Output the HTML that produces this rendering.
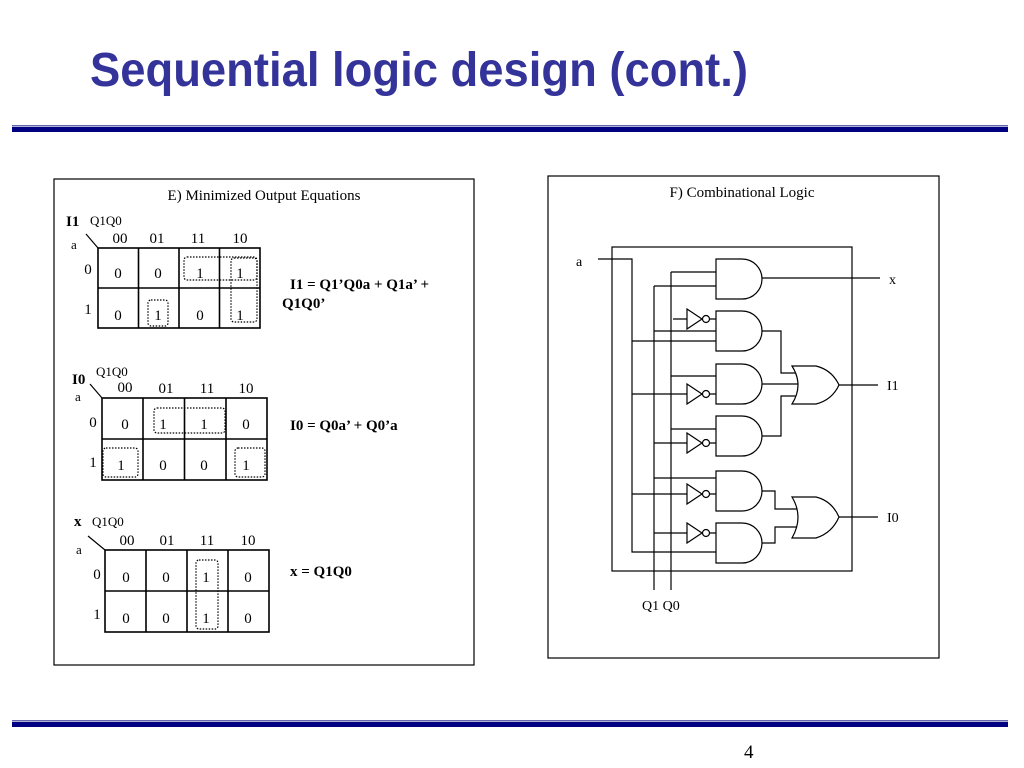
<!DOCTYPE html>
<html><head><style>body{margin:0;background:#fff}svg{display:block}</style></head><body>
<svg width="1024" height="768" viewBox="0 0 1024 768" xmlns="http://www.w3.org/2000/svg" font-family="Liberation Serif, serif">
<text x="90" y="86" font-family="Liberation Sans, sans-serif" font-weight="bold" font-size="48" fill="#333399" textLength="658" lengthAdjust="spacingAndGlyphs">Sequential logic design (cont.)</text>
<rect x="12" y="125" width="996" height="1.5" fill="#6666aa"/><rect x="12" y="127" width="996" height="5" fill="#000080"/>
<rect x="12" y="720" width="996" height="1.5" fill="#6666aa"/><rect x="12" y="722" width="996" height="5" fill="#000080"/>
<text x="744" y="758" font-size="19">4</text>
<g fill="none" stroke="#000" stroke-width="1.2">
<rect x="54" y="179" width="420" height="486"/>
<rect x="548" y="176" width="391" height="482"/>
<rect x="98" y="248" width="162" height="80" stroke-width="1.6"/><path d="M98 288H260M138.5 248V328M179 248V328M219.5 248V328" stroke-width="1.6"/>
<path d="M98 248L86 234"/>
<rect x="102" y="398" width="165" height="82" stroke-width="1.6"/><path d="M102 439H267M143 398V480M184.5 398V480M226 398V480" stroke-width="1.6"/>
<path d="M102 398L90 384"/>
<rect x="105" y="550" width="164" height="82" stroke-width="1.6"/><path d="M105 591H269M146 550V632M187 550V632M228 550V632" stroke-width="1.6"/>
<path d="M105 550L88 536"/>
</g>
<g fill="none" stroke="#000" stroke-width="1.2" stroke-dasharray="1.5,1.5">
<rect x="184" y="257" width="73" height="23" rx="3"/>
<rect x="231" y="258" width="26" height="64" rx="3"/>
<rect x="148" y="300" width="20" height="26" rx="3"/>
<rect x="154" y="408" width="71" height="25" rx="3"/>
<rect x="103" y="448" width="35" height="29" rx="3"/>
<rect x="235" y="448" width="30" height="29" rx="3"/>
<rect x="196" y="560" width="22" height="69" rx="3"/>
</g>
<g font-size="15" text-anchor="middle">
<text x="264" y="200">E) Minimized Output Equations</text>
<text x="742" y="197">F) Combinational Logic</text>
<g>
<text x="120" y="243">00</text><text x="157" y="243">01</text><text x="198" y="243">11</text><text x="240" y="243">10</text>
<text x="118" y="278">0</text><text x="158" y="278">0</text><text x="200" y="278">1</text><text x="240" y="278">1</text>
<text x="118" y="320">0</text><text x="158" y="320">1</text><text x="200" y="320">0</text><text x="240" y="320">1</text>
<text x="88" y="274">0</text><text x="88" y="314">1</text>
</g>
<g>
<text x="125" y="392">00</text><text x="166" y="393">01</text><text x="207" y="393">11</text><text x="246" y="393">10</text>
<text x="125" y="429">0</text><text x="163" y="429">1</text><text x="204" y="429">1</text><text x="246" y="429">0</text>
<text x="121" y="470">1</text><text x="163" y="470">0</text><text x="204" y="470">0</text><text x="246" y="470">1</text>
<text x="93" y="427">0</text><text x="93" y="467">1</text>
</g>
<g>
<text x="127" y="545">00</text><text x="167" y="545">01</text><text x="207" y="545">11</text><text x="248" y="545">10</text>
<text x="126" y="582">0</text><text x="166" y="582">0</text><text x="206" y="582">1</text><text x="248" y="582">0</text>
<text x="126" y="623">0</text><text x="166" y="623">0</text><text x="206" y="623">1</text><text x="248" y="623">0</text>
<text x="97" y="579">0</text><text x="97" y="619">1</text>
</g>
</g>
<g font-size="13">
<text x="90" y="225">Q1Q0</text><text x="71" y="249">a</text>
<text x="96" y="376">Q1Q0</text><text x="75" y="401">a</text>
<text x="92" y="526">Q1Q0</text><text x="76" y="554">a</text>
</g>
<g font-size="15" font-weight="bold">
<text x="66" y="226">I1</text><text x="72" y="384">I0</text><text x="74" y="526">x</text>
<text x="290" y="289">I1 = Q1’Q0a + Q1a’ +</text><text x="282" y="308">Q1Q0’</text>
<text x="290" y="430">I0 = Q0a’ + Q0’a</text>
<text x="290" y="576">x = Q1Q0</text>
</g>
<g font-size="14">
<text x="576" y="266">a</text><text x="889" y="284">x</text><text x="887" y="390">I1</text><text x="887" y="522">I0</text>
<text x="642" y="610">Q1 Q0</text>
</g>
<g fill="none" stroke="#000" stroke-width="1.2">
<rect x="612" y="247" width="240" height="324"/>
<path d="M598 259H632V552H716"/>
<path d="M654 286V590M671 272V590"/>
<path d="M671 272H716M654 286H716M762 278H880"/>
<path d="M673 319H687M654 331H716M632 341H716M762 331H781V373H797"/>
<path d="M671 376H716M632 394H687M762 384H800"/>
<path d="M671 429H716M654 443H687M762 436H781V396H797"/>
<path d="M654 478H716M632 494H687M762 491H775V509H797"/>
<path d="M654 533H687M762 543H775V527H797"/>
<path d="M838 385H878M838 517H878"/>
<path d="M710 319H716M710 394H716M710 443H716M710 494H716M710 533H716"/>
</g>
<g fill="#fff" stroke="#000" stroke-width="1.2">
<path d="M716 259H742A20 20 0 0 1 742 299H716Z"/>
<path d="M716 311H742A20 20 0 0 1 742 351H716Z"/>
<path d="M716 364H742A20 20 0 0 1 742 404H716Z"/>
<path d="M716 416H742A20 20 0 0 1 742 456H716Z"/>
<path d="M716 471H742A20 20 0 0 1 742 511H716Z"/>
<path d="M716 523H742A20 20 0 0 1 742 563H716Z"/>
<path d="M792 366Q804 385 792 404H816Q832 400 839 385Q832 370 816 366Z"/>
<path d="M792 497Q804 517 792 538H816Q832 533 839 517Q832 501 816 497Z"/>
<path d="M687 309L702 319L687 329Z"/><circle cx="706" cy="319" r="3.5"/>
<path d="M687 384L702 394L687 404Z"/><circle cx="706" cy="394" r="3.5"/>
<path d="M687 433L702 443L687 453Z"/><circle cx="706" cy="443" r="3.5"/>
<path d="M687 484L702 494L687 504Z"/><circle cx="706" cy="494" r="3.5"/>
<path d="M687 523L702 533L687 543Z"/><circle cx="706" cy="533" r="3.5"/>
</g>
</svg>
</body></html>
